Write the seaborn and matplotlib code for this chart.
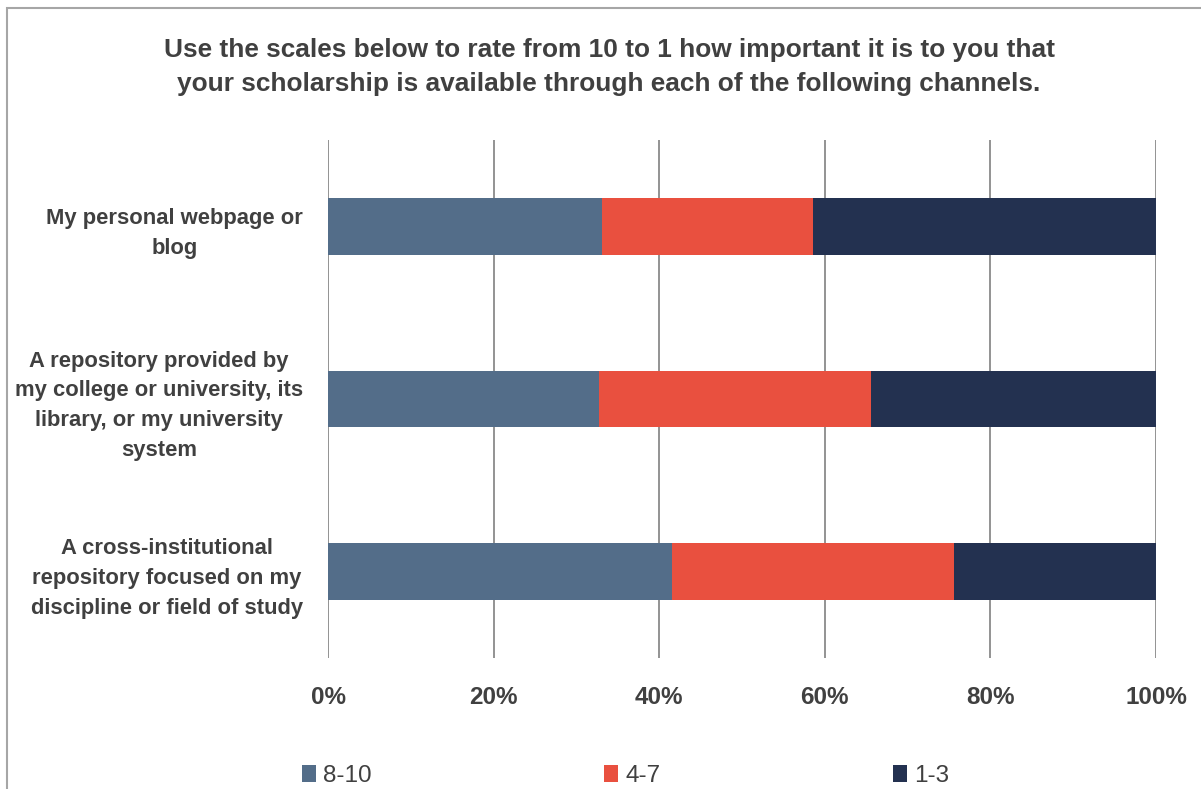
import matplotlib
matplotlib.use("Agg")
import matplotlib.pyplot as plt
import seaborn as sns
import pandas as pd
import numpy as np
from matplotlib.patches import Rectangle, Patch

categories = [
    "My personal webpage or\nblog",
    "A repository provided by\nmy college or university, its\nlibrary, or my university\nsystem",
    "A cross-institutional\nrepository focused on my\ndiscipline or field of study",
]
series_names = ["8-10", "4-7", "1-3"]
vals_8_10 = [33.1, 32.7, 41.6]
vals_4_7 = [25.5, 32.9, 34.0]
vals_1_3 = [41.4, 34.4, 24.4]
colors = ["#536D89", "#E9503F", "#233150"]
xtick_vals = [0, 20, 40, 60, 80, 100]
xtick_labels = ["0%", "20%", "40%", "60%", "80%", "100%"]
title = ("Use the scales below to rate from 10 to 1 how important it is to you that\n"
         "your scholarship is available through each of the following channels.")

sns.set_theme(style="white")
plt.rcParams["font.family"] = ["Liberation Sans", "DejaVu Sans"]

W, H = 1201, 789
fig = plt.figure(figsize=(W / 100, H / 100), dpi=100)
ax = fig.add_axes([328 / W, 1 - 658 / H, (1156 - 328) / W, (658 - 140) / H])

series = [vals_8_10, vals_4_7, vals_1_3]
cum = np.cumsum(np.array(series), axis=0)
# draw from the full stack down so the earlier segments sit on top
for i in range(len(series) - 1, -1, -1):
    df = pd.DataFrame({"cat": categories, "val": cum[i]})
    sns.barplot(data=df, y="cat", x="val", orient="h", color=colors[i],
                width=0.33, saturation=1, linewidth=0, ax=ax, zorder=3)

ax.set_xlim(0, 100)
ax.set_ylim(2.5, -0.5)
ax.set_xticks(xtick_vals)
ax.set_xticklabels(xtick_labels, fontsize=17.5, fontweight="bold", color="#404040")
ax.set_yticks(range(len(categories)))
ax.set_yticklabels(categories, fontsize=15.8, fontweight="bold", color="#404040",
                   multialignment="center", linespacing=1.55)
ax.tick_params(axis="x", length=0, pad=20)
ax.tick_params(axis="y", length=0, pad=18)
ax.set_xlabel("")
ax.set_ylabel("")
for s in ax.spines.values():
    s.set_visible(False)
ax.grid(False)
for xv in xtick_vals:
    ax.axvline(xv, color="#8A8A8A", linewidth=1.3, zorder=1)

fig.text(609 / W, 1 - 67 / H, title, ha="center", va="center", fontsize=18.9,
         fontweight="bold", color="#404040", linespacing=1.48)

handles = [Patch(facecolor=c, edgecolor="none") for c in colors]
leg = fig.legend(handles, series_names, loc="center left", ncol=3,
                 bbox_to_anchor=(302 / W, 1 - 776 / H), frameon=False,
                 fontsize=17.5, handlelength=0.58, handleheight=0.65,
                 handletextpad=0.3, columnspacing=9.55, borderpad=0, borderaxespad=0)
for t in leg.get_texts():
    t.set_color("#404040")

fig.patches.append(Rectangle((7 / W, -0.05), 1.2, 1 - 8 / H + 0.05,
                             transform=fig.transFigure, fill=False,
                             edgecolor="#A6A6A6", linewidth=1.5))

fig.savefig("out.png", dpi=100)
